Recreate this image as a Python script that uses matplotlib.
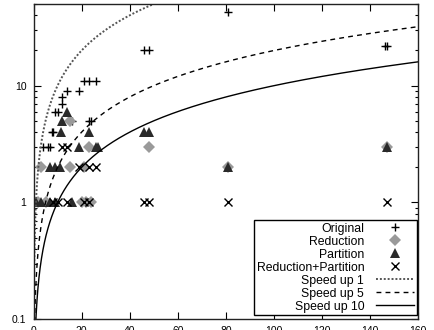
import numpy as np
import matplotlib
matplotlib.use("Agg")
import matplotlib.pyplot as plt

plt.rcParams['font.family'] = ['Liberation Sans', 'DejaVu Sans']

# Data (x, y) per method
orig_x = [81, 46, 48, 146, 147, 21, 23, 26, 14, 19, 12, 12, 9, 10, 16, 23, 24, 7.5, 8, 4, 6, 7]
orig_y = [43, 20, 20, 22, 22, 11, 11, 11, 9, 9, 8, 7, 6, 6, 5, 5, 5, 4, 4, 3, 3, 3]

red_x = [15, 23, 48, 147, 3, 15, 21, 81, 2, 5, 20, 22, 24]
red_y = [5, 3, 3, 3, 2, 2, 2, 2, 1, 1, 1, 1, 1]

part_x = [14, 12, 11.5, 23, 46, 48, 19, 26, 27, 147, 7, 9, 11, 81, 1, 3, 7, 9, 16]
part_y = [6, 5, 4, 4, 4, 4, 3, 3, 3, 3, 2, 2, 2, 2, 1, 1, 1, 1, 1]

rp_x = [12, 14, 19, 23, 26, 8, 10, 14, 21, 23, 46, 48, 81, 147]
rp_y = [3, 3, 2, 2, 2, 1, 1, 1, 1, 1, 1, 1, 1, 1]

speedups = [1, 5, 10]
speed_styles = [(0, (1, 1)), (0, (3.5, 3)), '-']
speed_lw = [1.4, 1.0, 1.0]
speed_colors = ['#555555', 'black', 'black']

x_ticks = [0, 20, 40, 60, 80, 100, 120, 140, 160]
y_ticks = [0.1, 1, 10]
y_ticklabels = ['0.1', '1', '10']

W, H = 434, 330
fig = plt.figure(figsize=(W / 100, H / 100), dpi=100)
l, r, t, b = 33.5, 418.3, 4, 319.3
ax = fig.add_axes([l / W, 1 - b / H, (r - l) / W, (b - t) / H])

ax.set_yscale('log')
ax.set_xlim(0, 160)
ax.set_ylim(0.1, 50)

ax.plot(orig_x, orig_y, linestyle='none', marker='+', color='black', markersize=6, markeredgewidth=1.0, label='Original')
ax.plot(red_x, red_y, linestyle='none', marker='D', color='#9a9a9a', markersize=6.5, markeredgewidth=0, label='Reduction')
ax.plot(part_x, part_y, linestyle='none', marker='^', color='#2a2a2a', markersize=7.5, markeredgewidth=0, label='Partition')
ax.plot(rp_x, rp_y, linestyle='none', marker='x', color='black', markersize=5.5, markeredgewidth=1.0, label='Reduction+Partition')

xs = np.linspace(0.005, 160, 4000)
for k, ls, lw, c in zip(speedups, speed_styles, speed_lw, speed_colors):
    ax.plot(xs, xs / k, linestyle=ls, color=c, linewidth=lw, label=f'Speed up {k}')

ax.set_xticks(x_ticks)
ax.set_xticklabels([str(v) for v in x_ticks])
ax.set_yticks(y_ticks)
ax.set_yticklabels(y_ticklabels)
ax.tick_params(which='major', direction='in', length=5, width=0.8, top=True, right=True, labelsize=7.5, pad=5, colors='black')
ax.tick_params(which='minor', direction='in', length=2.5, width=0.8, top=False, right=True, left=True)
ax.xaxis.set_minor_locator(matplotlib.ticker.NullLocator())
for s in ax.spines.values():
    s.set_linewidth(1.0)
    s.set_color('#222222')

leg = ax.legend(loc='lower right', bbox_to_anchor=(0.9958, 0.0136), borderaxespad=0,
                markerfirst=False, numpoints=1, fontsize=8.8, handlelength=3.1,
                handletextpad=1.0, labelspacing=0.08, borderpad=0.2,
                fancybox=False, framealpha=1, edgecolor='black')
leg.get_frame().set_linewidth(1.0)

fig.savefig('out.png', dpi=100)
